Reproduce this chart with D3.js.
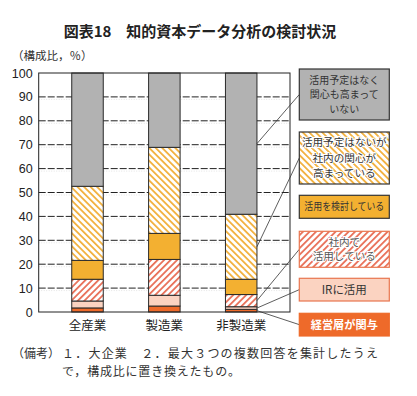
<!DOCTYPE html>
<html><head><meta charset="utf-8">
<script src="https://cdn.jsdelivr.net/npm/d3@7"></script>
<style>
html,body{margin:0;padding:0;background:#fff;}
svg{display:block;}
</style>
</head><body>
<div id="chart"></div>
<script>
// ---- data ----
const categories = ["全産業", "製造業", "非製造業"];
const seriesKeys = ["keiei", "ir", "shanai", "kento", "kanshin", "nashi"];
const keiei   = [1.7, 2.5, 1.1];
const ir      = [2.9, 4.5, 1.1];
const shanai  = [9.1, 15.0, 5.1];
const kento   = [7.9, 10.9, 6.4];
const kanshin = [31.0, 36.0, 27.2];
const nashi   = [47.4, 31.1, 59.1];
const yTicks  = [0, 10, 20, 30, 40, 50, 60, 70, 80, 90, 100];
const legendLabels = {
  nashi:   ["活用予定はなく", "関心も高まって", "いない"],
  kanshin: ["活用予定はないが", "社内の関心が", "高まっている"],
  kento:   ["活用を検討している"],
  shanai:  ["社内で", "活用している"],
  ir:      ["IRに活用"],
  keiei:   ["経営層が関与"]
};
const titleText = "図表18　知的資本データ分析の検討状況";
const unitText = "（構成比，％）";
const note1 = "（備考）";
const note2 = "１．大企業　２．最大３つの複数回答を集計したうえ";
const note3 = "で，構成比に置き換えたもの。";

const seriesValues = {keiei, ir, shanai, kento, kanshin, nashi};

// ---- layout ----
const W = 417, H = 396;
const plot = {left: 38.7, right: 290, top: 73, bottom: 312};
const JP = "'Noto Sans CJK JP','Noto Sans',sans-serif";
const NUM = "'Liberation Sans',Arial,sans-serif";

const svg = d3.select("#chart").append("svg").attr("width", W).attr("height", H);
const defs = svg.append("defs");

function hatch(id, color, angle, sw, gap) {
  const p = defs.append("pattern").attr("id", id)
    .attr("patternUnits", "userSpaceOnUse").attr("width", gap).attr("height", gap)
    .attr("patternTransform", `rotate(${angle})`);
  p.append("rect").attr("width", gap).attr("height", gap).attr("fill", "#fff");
  p.append("rect").attr("width", sw).attr("height", gap).attr("fill", color);
}
hatch("hY", "#f2b13f", -45, 1.8, 4.6);
hatch("hR", "#e9715a", 45, 1.8, 4.6);

const fills = {
  keiei: "#ee6a2a",
  ir: "#fbd3c1",
  shanai: "url(#hR)",
  kento: "#f3b031",
  kanshin: "url(#hY)",
  nashi: "#b2b2b2"
};

const x = d3.scaleBand().domain(categories).range([plot.left, plot.right]).paddingInner(0.59).paddingOuter(0.43);
const y = d3.scaleLinear().domain([0, 100]).range([plot.bottom, plot.top]);

// title
svg.append("text").attr("x", 200).attr("y", 37).attr("text-anchor", "middle")
  .attr("font-family", JP).attr("font-weight", "bold").attr("font-size", 15).attr("fill", "#222")
  .text(titleText);
svg.append("text").attr("x", 12).attr("y", 60)
  .attr("font-family", JP).attr("font-size", 11.5).attr("fill", "#333").text(unitText);

// gridlines
const grid = svg.append("g");
yTicks.filter(d => d > 0 && d < 100).forEach(t => {
  grid.append("line").attr("x1", plot.left).attr("x2", plot.right)
    .attr("y1", y(t)).attr("y2", y(t))
    .attr("stroke", "#222").attr("stroke-width", 1)
    .attr("stroke-dasharray", "7,2");
  grid.append("line").attr("x1", plot.left).attr("x2", plot.right)
    .attr("y1", y(t) + 2.5).attr("y2", y(t) + 2.5)
    .attr("stroke", "#e4e4e4").attr("stroke-width", 1)
    .attr("stroke-dasharray", "1,1.5");
});

// y axis
const yAxis = d3.axisLeft(y).tickValues(yTicks).tickSize(0).tickPadding(6);
const ya = svg.append("g").attr("transform", `translate(${plot.left},0)`).call(yAxis);
ya.select(".domain").remove();
ya.selectAll("text").attr("font-family", NUM).attr("font-size", 12.5).attr("fill", "#222");

// stacked bars
const table = categories.map((c, i) => {
  const o = {cat: c};
  seriesKeys.forEach(k => o[k] = seriesValues[k][i]);
  return o;
});
const stack = d3.stack().keys(seriesKeys)(table);
const bars = svg.append("g");
stack.forEach(layer => {
  bars.append("g").selectAll("rect").data(layer).join("rect")
    .attr("x", d => x(d.data.cat))
    .attr("width", x.bandwidth())
    .attr("y", d => y(d[1]))
    .attr("height", d => y(d[0]) - y(d[1]))
    .attr("fill", fills[layer.key])
    .attr("stroke", "#2a2a2a").attr("stroke-width", 1);
});

// plot frame
svg.append("rect").attr("x", plot.left).attr("y", plot.top)
  .attr("width", plot.right - plot.left).attr("height", plot.bottom - plot.top)
  .attr("fill", "none").attr("stroke", "#222").attr("stroke-width", 1);

// x axis labels
const xAxis = d3.axisBottom(x).tickSize(0).tickPadding(9);
const xa = svg.append("g").attr("transform", `translate(0,${plot.bottom})`).call(xAxis);
xa.select(".domain").remove();
xa.selectAll("text").attr("font-family", JP).attr("font-size", 12.5).attr("fill", "#222");

// legend boxes
const legendX = 299.3, legendW = 90;
const legendBoxes = {
  nashi:   {y0: 69,    y1: 120,   stroke: "#333",    text: "#333", lh: 14.6, fs: 10, tl0: 72},
  kanshin: {y0: 132,   y1: 184,   stroke: "#333",    text: "#333", lh: 15.5, fs: 10.6},
  kento:   {y0: 195.3, y1: 218.3, stroke: "#333",    text: "#333", lh: 13,   fs: 10.2, tl: 80},
  shanai:  {y0: 231.3, y1: 267.3, stroke: "#e8764f", text: "#555", lh: 14.5, fs: 10.6},
  ir:      {y0: 278.3, y1: 301,   stroke: "#e8764f", text: "#333", lh: 13,   fs: 11.5},
  keiei:   {y0: 313.3, y1: 336,   stroke: "#ee6a2a", text: "#fff", lh: 13,   fs: 11.2, bold: true}
};
const lastIdx = categories.length - 1;
const lastLayerData = {};
stack.forEach(layer => lastLayerData[layer.key] = layer[lastIdx]);
const leaderKeys = ["nashi", "kanshin", "shanai", "ir", "keiei"];

// leader lines
const barRight = x(categories[lastIdx]) + x.bandwidth();
leaderKeys.forEach(k => {
  const d = lastLayerData[k];
  const b = legendBoxes[k];
  svg.append("line")
    .attr("x1", barRight).attr("y1", y((d[0] + d[1]) / 2))
    .attr("x2", legendX).attr("y2", (b.y0 + b.y1) / 2)
    .attr("stroke", "#333").attr("stroke-width", 0.8);
});

const lg = svg.append("g");
seriesKeys.forEach(k => {
  const b = legendBoxes[k];
  lg.append("rect").attr("x", legendX).attr("y", b.y0).attr("width", legendW).attr("height", b.y1 - b.y0)
    .attr("fill", fills[k]).attr("stroke", b.stroke).attr("stroke-width", 1.2);
  const lines = legendLabels[k];
  const cy = (b.y0 + b.y1) / 2;
  const start = cy - (lines.length - 1) * b.lh / 2;
  const tx = lg.append("text").attr("text-anchor", "middle")
    .attr("font-family", JP).attr("font-size", b.fs).attr("fill", b.text)
    .attr("font-weight", b.bold ? "bold" : "normal");
  if (k === "shanai" || k === "kanshin") {
    tx.attr("stroke", "#fff").attr("stroke-width", 2).attr("paint-order", "stroke");
  }
  lines.forEach((t, i) => {
    const ts = tx.append("tspan").attr("x", legendX + legendW / 2).attr("y", start + i * b.lh)
      .attr("dy", "0.36em").text(t);
    if (b.tl) ts.attr("textLength", b.tl).attr("lengthAdjust", "spacingAndGlyphs");
  });
});

// notes
svg.append("text").attr("x", 12).attr("y", 358).attr("font-family", JP).attr("font-size", 12).attr("fill", "#333").text(note1);
const nt = svg.append("text").attr("font-family", JP).attr("font-size", 12).attr("fill", "#333");
nt.append("tspan").attr("x", 62).attr("y", 358)
  .attr("textLength", 316).attr("lengthAdjust", "spacing").text(note2);
nt.append("tspan").attr("x", 62).attr("y", 375.6).attr("textLength", 178).attr("lengthAdjust", "spacing").text(note3);
</script>
</body></html>
